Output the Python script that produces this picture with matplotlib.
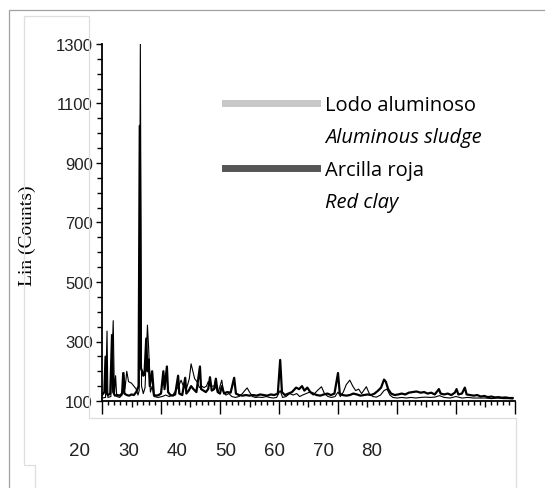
import matplotlib
matplotlib.use("Agg")
import matplotlib.pyplot as plt
from matplotlib.lines import Line2D
from matplotlib.ticker import MultipleLocator, FixedLocator

x_arcilla = [20.0, 20.4, 20.6, 20.8, 21.0, 21.4, 21.7, 21.9, 22.2, 22.6, 23.0, 23.4, 23.6, 23.8,
             24.2, 24.6, 25.0, 25.4, 25.8, 26.2, 26.4, 26.6, 26.8, 27.0, 27.2, 27.5, 27.7, 27.9,
             28.1, 28.5, 28.8, 29.2, 29.6, 30.0, 30.4, 30.6, 31.0, 31.2, 31.6, 32.0, 32.4, 32.9,
             33.1, 33.6, 34.1, 34.3, 34.7, 35.1, 35.5, 36.0, 36.6, 36.8, 37.2, 37.6, 38.0, 38.3,
             38.6, 39.0, 39.3, 39.6, 40.0, 40.3, 40.7, 41.2, 41.8, 42.4, 42.7, 43.2, 43.8, 44.4,
             45.0, 45.6, 46.2, 46.8, 47.4, 48.0, 48.6, 49.2, 49.8, 50.2, 50.5, 51.0, 51.6, 52.2,
             52.9, 53.4, 53.9, 54.3, 54.8, 55.3, 55.8, 56.4, 57.0, 57.6, 58.2, 58.8, 59.4, 60.0,
             60.3, 60.8, 61.4, 62.0, 62.6, 63.2, 63.8, 64.4, 65.0, 65.6, 66.2, 66.8, 67.3, 67.8,
             68.1, 68.5, 69.0, 69.6, 70.2, 70.8, 71.4, 72.0, 72.7, 73.3, 74.0, 74.6, 75.2, 75.8,
             76.4, 77.1, 77.4, 78.0, 78.6, 79.2, 79.8, 80.1, 80.4, 81.0, 81.5, 81.8, 82.4, 83.0,
             83.6, 84.2, 84.8, 85.4, 86.0, 86.6, 87.2, 87.8, 88.4, 89.0, 89.6]
y_arcilla = [120, 130, 249, 125, 120, 125, 322, 130, 118, 120, 118, 125, 194, 125,
             120, 118, 122, 120, 130, 150, 1025, 210, 200, 185, 190, 310, 200, 240,
             150, 200, 120, 118, 120, 125, 200, 140, 216, 130, 120, 118, 122, 185,
             125, 120, 178, 125, 135, 150, 140, 130, 216, 140, 135, 130, 140, 180,
             135, 140, 175, 130, 125, 150, 125, 130, 128, 178, 125, 120, 118, 120,
             118, 120, 118, 122, 120, 118, 122, 120, 125, 238, 130, 120, 125, 130,
             145, 140, 150, 135, 145, 130, 125, 120, 118, 122, 125, 120, 125, 194,
             125, 120, 118, 120, 125, 122, 118, 120, 122, 120, 125, 135, 145, 172,
             165, 140, 125, 120, 122, 125, 122, 128, 130, 132, 128, 130, 125, 128,
             122, 140, 125, 122, 125, 120, 128, 140, 122, 125, 145, 122, 120, 118,
             120, 115, 117, 113, 115, 112, 113, 111, 112, 110, 110]

x_lodo = [20.0, 20.6, 20.85, 21.0, 21.5, 21.9, 22.1, 22.3, 22.5, 23.0, 23.4, 23.7, 23.9, 24.2,
          24.5, 25.0, 25.4, 25.8, 26.1, 26.3, 26.5, 26.7, 27.0, 27.3, 27.7, 27.9, 28.2, 28.5,
          28.8, 29.5, 30.2, 30.8, 31.4, 32.0, 32.5, 33.0, 33.4, 33.8, 34.3, 34.8, 35.1, 35.4,
          35.7, 36.1, 36.5, 36.9, 37.3, 37.7, 38.0, 38.4, 38.8, 39.1, 39.7, 40.3, 40.6, 41.0,
          41.5, 42.0, 42.6, 43.2, 43.8, 44.2, 44.6, 45.0, 45.5, 46.0, 46.6, 47.2, 47.8, 48.4,
          49.0, 49.6, 50.2, 50.6, 51.2, 51.8, 52.4, 53.0, 53.5, 54.0, 54.6, 55.2, 55.8, 56.5,
          57.2, 57.7, 58.3, 58.9, 59.5, 60.0, 60.4, 60.9, 61.4, 62.0, 62.5, 63.0, 63.5, 64.0,
          64.8, 65.3, 65.9, 66.5, 67.2, 67.8, 68.3, 68.8, 69.3, 70.0, 70.8, 71.6, 72.4, 73.2,
          74.0, 74.8, 75.6, 76.4, 77.2, 78.0, 79.0, 80.0, 81.0, 82.0, 83.0, 84.0, 85.0, 86.0,
          87.0, 88.0, 89.0, 89.6]
y_lodo = [110, 112, 335, 112, 115, 370, 120, 185, 115, 112, 120, 195, 140, 200,
          165, 160, 150, 140, 120, 135, 1300, 150, 125, 145, 355, 280, 130, 150,
          115, 112, 115, 120, 115, 120, 135, 150, 170, 150, 140, 175, 225, 200,
          175, 165, 145, 150, 145, 150, 165, 150, 150, 150, 130, 170, 130, 120,
          125, 115, 112, 115, 125, 135, 144, 130, 115, 112, 113, 112, 115, 112,
          110, 112, 135, 112, 115, 125, 120, 125, 115, 120, 125, 130, 120, 135,
          148, 125, 115, 112, 115, 130, 115, 130, 155, 170, 150, 135, 140, 125,
          148, 125, 115, 113, 120, 135, 140, 120, 112, 110, 112, 110, 112, 110,
          112, 113, 112, 113, 118, 112, 110, 115, 110, 112, 110, 110, 110, 108,
          110, 108, 108, 107]

y_ticks = [100, 300, 500, 700, 900, 1100, 1300]
x_labels = [20, 30, 40, 50, 60, 70, 80]

W, H = 545, 489
fig = plt.figure(figsize=(W / 100, H / 100), dpi=100)


def fx(px):
    return px / W


def fy(py):
    return 1 - py / H


# cadres gris de la capture
fig.add_artist(Line2D([fx(9), fx(9), fx(545)], [fy(489), fy(11), fy(11)],
                      transform=fig.transFigure, color="#a0a0a0", lw=0.9))
fig.add_artist(Line2D([fx(35), fx(35), fx(24), fx(24), fx(89), fx(89), fx(516), fx(516)],
                      [fy(489), fy(466), fy(466), fy(17), fy(17), fy(419), fy(419), fy(489)],
                      transform=fig.transFigure, color="#dedede", lw=0.9))

ax = fig.add_axes([fx(102), fy(402), (515 - 102) / W, (402 - 45) / H])
ax.plot(x_lodo, y_lodo, color="black", lw=0.8)
ax.plot(x_arcilla, y_arcilla, color="black", lw=1.6)
ax.set_xlim(20, 90)
ax.set_ylim(100, 1300)

for s in ["top", "right"]:
    ax.spines[s].set_visible(False)
ax.spines["left"].set_linewidth(1.3)
ax.spines["bottom"].set_linewidth(1.3)

ax.xaxis.set_major_locator(MultipleLocator(5))
ax.xaxis.set_minor_locator(MultipleLocator(1))
ax.tick_params(axis="x", which="major", direction="out", length=4.5, width=1, labelbottom=False)
ax.tick_params(axis="x", which="minor", direction="out", length=3, width=1)
for t, loc in zip(ax.xaxis.get_major_ticks(), ax.xaxis.get_majorticklocs()):
    if round(loc) % 10 == 0:
        t.tick1line.set_markersize(9)

ax.yaxis.set_major_locator(FixedLocator(y_ticks))
ax.yaxis.set_minor_locator(MultipleLocator(50))
ax.tick_params(axis="y", which="major", direction="out", length=4.5, width=1, pad=2,
               labelsize=12, labelfontfamily="Liberation Sans", colors="#222222")
ax.tick_params(axis="y", which="minor", direction="out", length=3.5, width=1)
ax.tick_params(axis="y", which="both", color="black")

ax.set_ylabel("Lin (Counts)", fontfamily="Liberation Serif", fontsize=14)
ax.yaxis.set_label_coords(-0.16, 0.465)

# légende : nom espagnol + traduction en italique
handles = [Line2D([], [], color="#c8c8c8", lw=5), Line2D([], [], color="none"),
           Line2D([], [], color="#555555", lw=5), Line2D([], [], color="none")]
labels = ["Lodo aluminoso", "Aluminous sludge", "Arcilla roja", "Red clay"]
leg = ax.legend(handles, labels, loc="upper left", bbox_to_anchor=(fx(225), fy(96)),
                bbox_transform=fig.transFigure, frameon=False, borderpad=0, borderaxespad=0,
                handlelength=4.55, handletextpad=0.4, labelspacing=0.62,
                prop={"family": "Open Sans", "size": 14.5})
for i in (1, 3):
    leg.get_texts()[i].set_style("italic")

# étiquettes de l'axe x, décalées dans leur propre cadre
ax2 = fig.add_axes([fx(80), fy(443), (372 - 80) / W, 0.0001])
ax2.set_xlim(20, 80)
ax2.set_xticks(x_labels)
ax2.set_yticks([])
for s in ax2.spines.values():
    s.set_visible(False)
ax2.tick_params(axis="x", length=0, pad=0, labelsize=13.5, labelfontfamily="Liberation Sans",
                labelcolor="#222222")
ax2.patch.set_visible(False)

plt.savefig("out.png", dpi=100)
